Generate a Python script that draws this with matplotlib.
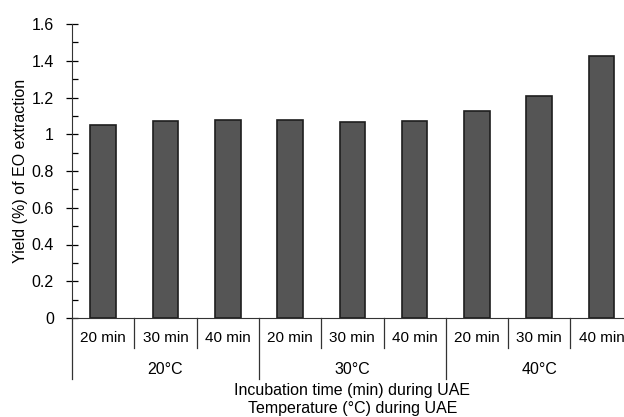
import matplotlib.pyplot as plt
from matplotlib.ticker import MultipleLocator

plt.rcParams['font.family'] = ['Liberation Sans', 'DejaVu Sans']

times = ["20 min", "30 min", "40 min"] * 3
temps = ["20°C", "30°C", "40°C"]
yields = [1.052, 1.074, 1.079, 1.079, 1.064, 1.070, 1.124, 1.210, 1.428]

fig = plt.figure(figsize=(6.24, 4.17), dpi=100)
ax = fig.add_axes([72 / 624, 99 / 417, 552 / 624, 294 / 417])

x = list(range(len(yields)))
ax.bar(x, yields, width=0.41, color="#555555", edgecolor="#1e1e1e", linewidth=1.2)

ax.set_ylim(0, 1.6)
ax.set_xlim(-0.5, 8.36)
ax.yaxis.set_minor_locator(MultipleLocator(0.1))
ax.set_yticks([0, 0.2, 0.4, 0.6, 0.8, 1.0, 1.2, 1.4, 1.6])
ax.set_yticklabels(["0", "0.2", "0.4", "0.6", "0.8", "1", "1.2", "1.4", "1.6"], fontsize=11.5)
ax.tick_params(axis="y", which="major", direction="inout", length=8, width=0.9, pad=9)
ax.tick_params(axis="y", which="minor", direction="in", length=4, width=0.9)
ax.set_xticks([])

for s in ["top", "right"]:
    ax.spines[s].set_visible(False)
ax.spines["left"].set_color("#333333")
ax.spines["bottom"].set_color("#333333")

ax.set_ylabel("Yield (%) of EO extraction", fontsize=11.5)
ax.yaxis.set_label_coords(-44 / 552, 0.5)

# category labels and separators below the axis
trans = ax.get_xaxis_transform()
px = 1 / 294  # one pixel in axes-fraction units (vertical)
for i, t in enumerate(times):
    ax.text(i, -20 * px, t, transform=trans, ha="center", va="center", fontsize=11)
for i in range(len(times) + 1):
    edge = i - 0.5
    low = -61 * px if i % 3 == 0 else -30 * px
    ax.plot([edge, edge], [0, low], transform=trans, color="#333333",
            linewidth=0.9, clip_on=False)
for j, t in enumerate(temps):
    ax.text(3 * j + 1, -51 * px, t, transform=trans, ha="center", va="center", fontsize=11.5)

ax.text(4, -73 * px, "Incubation time (min) during UAE", transform=trans,
        ha="center", va="center", fontsize=11.5)
ax.text(4, -90 * px, "Temperature (°C) during UAE", transform=trans,
        ha="center", va="center", fontsize=11.5)

fig.savefig("out.png", dpi=100)
